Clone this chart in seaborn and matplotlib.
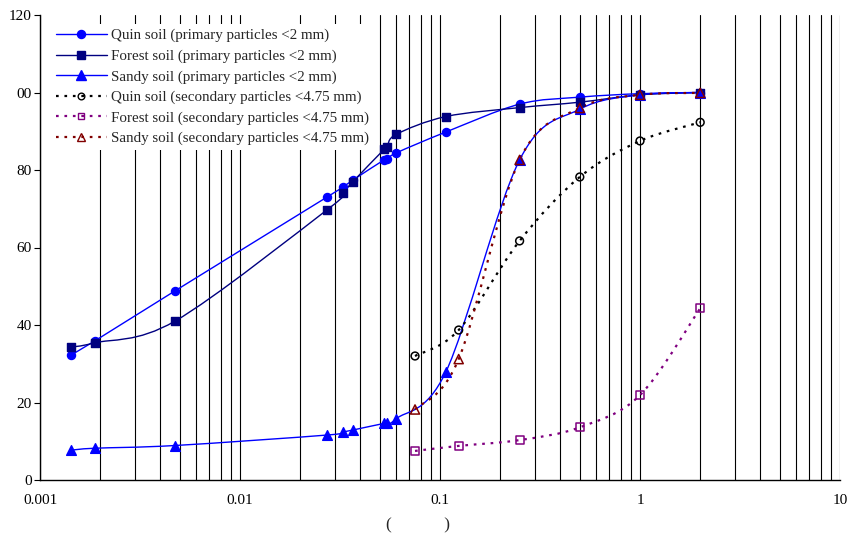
import numpy as np
import pandas as pd
import matplotlib
matplotlib.use("Agg")
import matplotlib.pyplot as plt
import seaborn as sns
from matplotlib.path import Path
from matplotlib.patches import PathPatch
from matplotlib.lines import Line2D
from matplotlib.ticker import FixedLocator

# particle size (mm) and cumulative percent finer
size_primary = [0.00143, 0.00188, 0.00473, 0.0272, 0.0327, 0.0367, 0.0525, 0.0545,
                0.0604, 0.107, 0.25, 0.5, 1.0, 2.0]
quin_primary = [32.3, 35.9, 48.8, 73.0, 75.6, 77.4, 82.6, 82.8, 84.4, 89.8, 97.0, 98.8, 99.7, 100.0]
forest_primary = [34.3, 35.4, 41.0, 69.7, 74.0, 77.0, 85.3, 86.0, 89.2, 93.8, 96.1, 97.5, 99.4, 100.0]
sandy_primary = [7.7, 8.2, 8.9, 11.6, 12.4, 12.9, 14.6, 14.6, 15.8, 27.9, 82.6, 95.7, 99.4, 100.0]

size_secondary = [0.075, 0.124, 0.25, 0.5, 1.0, 2.0]
quin_secondary = [32.0, 38.7, 61.7, 78.2, 87.5, 92.3]
forest_secondary = [7.5, 8.8, 10.3, 13.6, 21.9, 44.3]
sandy_secondary = [18.2, 31.2, 82.6, 96.0, 99.4, 99.9]

labels = ["Quin soil (primary particles <2 mm)",
          "Forest soil (primary particles <2 mm)",
          "Sandy soil (primary particles <2 mm)",
          "Quin soil (secondary particles <4.75 mm)",
          "Forest soil (secondary particles <4.75 mm)",
          "Sandy soil (secondary particles <4.75 mm)"]

y_ticks = [0, 20, 40, 60, 80, 100, 120]
y_ticklabels = ["0", "20", "40", "60", "80", "00", "120"]
x_ticks = [0.001, 0.01, 0.1, 1, 10]
x_ticklabels = ["0.001", "0.01", "0.1", "1", "10"]


def smooth_path(x, y):
    # Catmull-Rom style bezier (like Excel smoothed line), built in log-x space
    lx = np.log10(np.asarray(x, float))
    yy = np.asarray(y, float)
    pts = np.column_stack([lx, yy])
    n = len(pts)
    verts = [pts[0]]
    codes = [Path.MOVETO]
    for i in range(n - 1):
        p0 = pts[i - 1] if i > 0 else pts[i]
        p1 = pts[i]
        p2 = pts[i + 1]
        p3 = pts[i + 2] if i + 2 < n else pts[i + 1]
        c1 = p1 + (p2 - p0) / 6.0
        c2 = p2 - (p3 - p1) / 6.0
        verts += [c1, c2, p2]
        codes += [Path.CURVE4] * 3
    verts = np.array(verts)
    verts[:, 0] = 10 ** verts[:, 0]
    return Path(verts, codes)


dots = (0, (1.2, 2.6))
series = [
    (size_primary, quin_primary, "#0000FF", "o", True, "-", 5.8),
    (size_primary, forest_primary, "#000080", "s", True, "-", 6.0),
    (size_primary, sandy_primary, "#0000FF", "^", True, "-", 7.0),
    (size_secondary, quin_secondary, "#000000", "o", False, dots, 5.6),
    (size_secondary, forest_secondary, "#800080", "s", False, dots, 5.8),
    (size_secondary, sandy_secondary, "#800000", "^", False, dots, 6.6),
]

sns.set_style("white")
plt.rcParams['font.family'] = ['Liberation Serif', 'DejaVu Serif']

fig = plt.figure(figsize=(8.53, 5.41), dpi=100)
ax = fig.add_axes([40 / 853, 61 / 541, 800 / 853, 465 / 541])
ax.set_xscale("log")
ax.set_xlim(0.001, 10)
ax.set_ylim(0, 120)

# vertical gridlines at every 1..9 of each decade
grid_x = [m * 10.0 ** e for e in range(-3, 1) for m in range(1, 10)] + [10]
ax.xaxis.set_minor_locator(FixedLocator(grid_x))
ax.grid(True, which="both", axis="x", color="black", linewidth=0.8)
ax.grid(False, axis="y")
ax.set_axisbelow(True)

handles = []
for i, (xs, ys, col, mk, filled, ls, ms) in enumerate(series):
    lw = 1.0 if filled else 1.6
    ax.add_patch(PathPatch(smooth_path(xs, ys), facecolor="none", edgecolor=col,
                           linewidth=lw, linestyle=ls, zorder=3 + i))
    df = pd.DataFrame({"size": xs, "pct": ys})
    sns.scatterplot(data=df, x="size", y="pct", ax=ax, marker=mk, s=ms ** 2,
                    color=col if filled else "none", edgecolor=col,
                    linewidth=1.0 if filled else 1.1, zorder=10 + i)
    handles.append(Line2D([0], [0], color=col, linewidth=lw, linestyle=ls,
                          marker=mk, markersize=ms if filled else ms - 0.8,
                          markerfacecolor=col if filled else "none",
                          markeredgecolor=col))

ax.set_xticks(x_ticks)
ax.set_xticklabels(x_ticklabels)
ax.set_yticks(y_ticks)
ax.set_yticklabels(y_ticklabels)
ax.tick_params(axis="x", which="major", direction="out", length=4, width=0.8,
               labelsize=11, pad=6, colors="black")
ax.tick_params(axis="x", which="minor", length=0)
ax.tick_params(axis="y", direction="out", length=4, width=0.8, labelsize=11,
               pad=2, colors="black", left=True)
ax.set_xlabel("(            )", fontsize=12.5)
ax.xaxis.set_label_coords((418 - 40) / 800, -37 / 465)
ax.set_ylabel("")

for side in ["top", "right"]:
    ax.spines[side].set_visible(False)
for side in ["left", "bottom"]:
    ax.spines[side].set_color("black")
    ax.spines[side].set_linewidth(1.0)

leg = ax.legend(handles, labels, loc="upper left", bbox_to_anchor=(0.014, 0.98),
                frameon=True, fontsize=10.8, handlelength=3.4, handletextpad=0.3,
                labelspacing=0.46, borderpad=0.3, borderaxespad=0)
leg.get_frame().set_facecolor("white")
leg.get_frame().set_edgecolor("none")
leg.get_frame().set_alpha(1)
leg.set_zorder(20)

fig.savefig("out.png", dpi=100)
